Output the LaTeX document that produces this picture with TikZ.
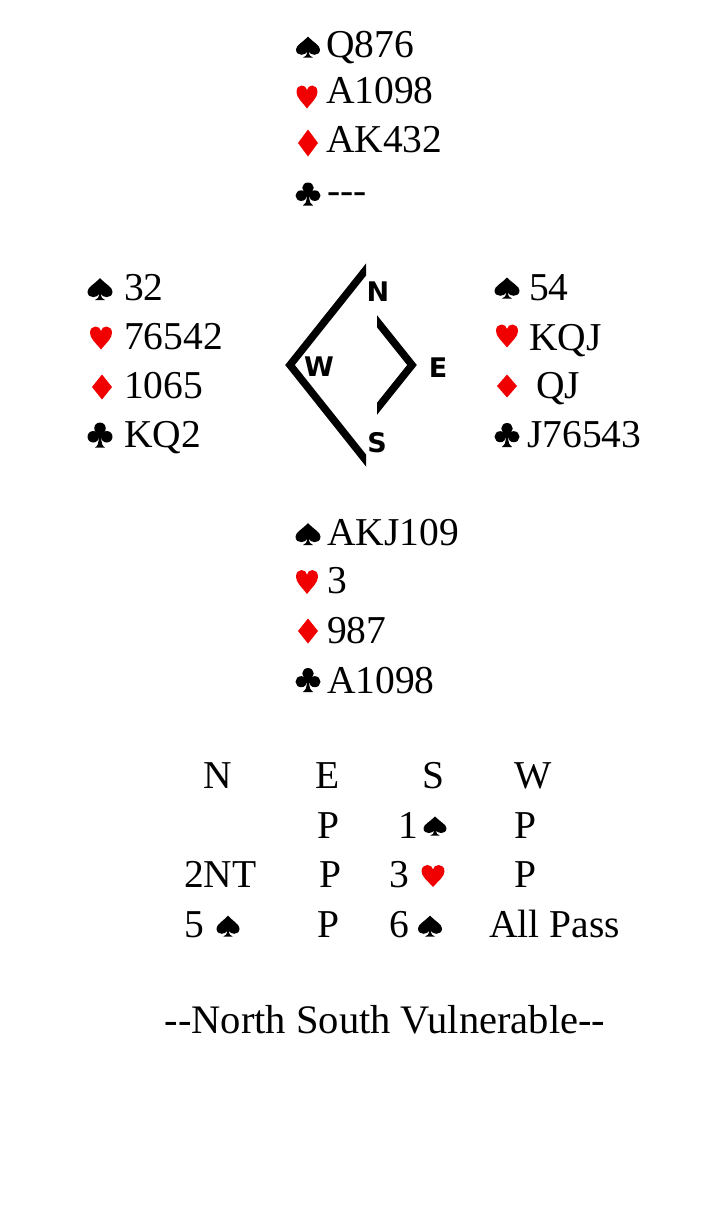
\documentclass[tikz,border=0pt]{standalone}
\usepackage{fontspec}
\setmainfont{Liberation Serif}
\newfontfamily\compassfnt{DejaVu Sans}
\definecolor{suitred}{RGB}{240,0,0}
\tikzset{
  spadepic/.pic={
    \fill[black] (0,-0.5) .. controls (-0.22,-0.22) and (-0.5,-0.08) .. (-0.5,0.12)
      .. controls (-0.5,0.3) and (-0.38,0.37) .. (-0.27,0.37)
      .. controls (-0.15,0.37) and (-0.07,0.3) .. (-0.04,0.22)
      .. controls (-0.04,0.38) and (-0.1,0.47) .. (-0.2,0.5) -- (0.2,0.5)
      .. controls (0.1,0.47) and (0.04,0.38) .. (0.04,0.22)
      .. controls (0.07,0.3) and (0.15,0.37) .. (0.27,0.37)
      .. controls (0.38,0.37) and (0.5,0.3) .. (0.5,0.12)
      .. controls (0.5,-0.08) and (0.22,-0.22) .. (0,-0.5) -- cycle;
  },
  heartpic/.pic={
    \fill[suitred] (0,0.5) .. controls (-0.25,0.2) and (-0.5,0.02) .. (-0.5,-0.22)
      .. controls (-0.5,-0.4) and (-0.38,-0.5) .. (-0.25,-0.5)
      .. controls (-0.12,-0.5) and (-0.02,-0.42) .. (0,-0.3)
      .. controls (0.02,-0.42) and (0.12,-0.5) .. (0.25,-0.5)
      .. controls (0.38,-0.5) and (0.5,-0.4) .. (0.5,-0.22)
      .. controls (0.5,0.02) and (0.25,0.2) .. (0,0.5) -- cycle;
  },
  diamondpic/.pic={
    \fill[suitred] (0,-0.5) -- (0.5,0) -- (0,0.5) -- (-0.5,0) -- cycle;
  },
  clubpic/.pic={
    \fill[black] (0,-0.27) circle[x radius=0.23, y radius=0.23];
    \fill[black] (-0.27,0.07) circle[x radius=0.23, y radius=0.23];
    \fill[black] (0.27,0.07) circle[x radius=0.23, y radius=0.23];
    \fill[black] (0,0.0) circle[x radius=0.14, y radius=0.14];
    \fill[black] (-0.05,0.05) .. controls (-0.05,0.35) and (-0.1,0.45) .. (-0.2,0.5)
      -- (0.2,0.5) .. controls (0.1,0.45) and (0.05,0.35) .. (0.05,0.05) -- cycle;
  }
}
\begin{document}
\begin{tikzpicture}[x=1pt,y=-1pt,
  card/.style={anchor=base west, inner sep=0pt, font=\fontsize{39.5}{39.5}\selectfont},
  bid/.style={anchor=base, inner sep=0pt, font=\fontsize{39.5}{39.5}\selectfont},
  bidw/.style={anchor=base west, inner sep=0pt, font=\fontsize{39.5}{39.5}\selectfont},
  compasslbl/.style={inner sep=0pt, anchor=center, font=\compassfnt\bfseries\fontsize{27}{27}\selectfont},
  bracket/.style={line width=7.5pt, line join=miter, miter limit=10}]
\useasboundingbox[fill=white] (0,0) rectangle (725,1205);

% North
\pic[xscale=24,yscale=21] at (308,47) {spadepic};
\node[card] (nSt) at (326,57) {Q876};
\pic[xscale=21,yscale=23] at (307,97) {heartpic};
\node[card] (nHt) at (326,103) {A1098};
\pic[xscale=20,yscale=27] at (308,143) {diamondpic};
\node[card] (nDt) at (326,152) {AK432};
\pic[xscale=25,yscale=23] at (308,194) {clubpic};
\node[card] (nCt) at (327,203) {-{}-{}-};

% West
\pic[xscale=25,yscale=22] at (100,289) {spadepic};
\node[card] (wSt) at (124,300) {32};
\pic[xscale=22,yscale=23] at (101,338) {heartpic};
\node[card] (wHt) at (124,349) {76542};
\pic[xscale=20,yscale=25] at (102,387) {diamondpic};
\node[card] (wDt) at (124,398) {1065};
\pic[xscale=25,yscale=25] at (100,435) {clubpic};
\node[card] (wCt) at (124,447) {KQ2};

% East
\pic[xscale=25,yscale=21] at (507,288) {spadepic};
\node[card] (eSt) at (529,300) {54};
\pic[xscale=22,yscale=23] at (507,336) {heartpic};
\node[card] (eHt) at (529,350) {KQJ};
\pic[xscale=20,yscale=23] at (507,386) {diamondpic};
\node[card] (eDt) at (536,398) {QJ};
\pic[xscale=25,yscale=24] at (507,435) {clubpic};
\node[card] (eCt) at (527,447) {J76543};

% South
\pic[xscale=25,yscale=22] at (308,534) {spadepic};
\node[card] (sSt) at (327,545) {AKJ109};
\pic[xscale=22,yscale=24] at (307,582) {heartpic};
\node[card] (sHt) at (327,593) {3};
\pic[xscale=20,yscale=25] at (308,631) {diamondpic};
\node[card] (sDt) at (327,643) {987};
\pic[xscale=25,yscale=24] at (308,680) {clubpic};
\node[card] (sCt) at (327,693) {A1098};

% Compass
\begin{scope}
  \clip (250,240) rectangle (366,490);
  \draw[bracket] (372,262) -- (290,365) -- (372,468);
\end{scope}
\begin{scope}
  \clip (377,300) rectangle (440,430);
  \draw[bracket] (372,315) -- (412,365) -- (372,415);
\end{scope}
\node[compasslbl] (cN) at (378,292) {N};
\node[compasslbl] (cW) at (319,367) {W};
\node[compasslbl] (cE) at (438,368) {E};
\node[compasslbl] (cS) at (377,443) {S};

% Bidding
\node[bid] (hN) at (218,788) {N};
\node[bid] (hE) at (328,788) {E};
\node[bid] (hS) at (433,788) {S};
\node[bid] (hW) at (533,788) {W};

\node[bid] (b1E) at (328,838) {P};
\node[bidw] (b1S) at (398,838) {1};
\pic[xscale=23,yscale=19] at (435,826) {spadepic};
\node[bid] (b1W) at (525,838) {P};

\node[bidw] (b2N) at (184,887) {2NT};
\node[bid] (b2E) at (330,887) {P};
\node[bidw] (b2S) at (389,887) {3};
\pic[xscale=23,yscale=22] at (433,876) {heartpic};
\node[bid] (b2W) at (525,887) {P};

\node[bidw] (b3N) at (184,937) {5};
\pic[xscale=23,yscale=21] at (228,926) {spadepic};
\node[bid] (b3E) at (328,937) {P};
\node[bidw] (b3S) at (389,937) {6};
\pic[xscale=24,yscale=21] at (430,926) {spadepic};
\node[bidw] (b3W) at (489,937) {All Pass};

\node[bid, font=\fontsize{40.5}{40.5}\selectfont] (vul) at (385,1033) {-{}-North South Vulnerable-{}-};
\end{tikzpicture}
\end{document}
